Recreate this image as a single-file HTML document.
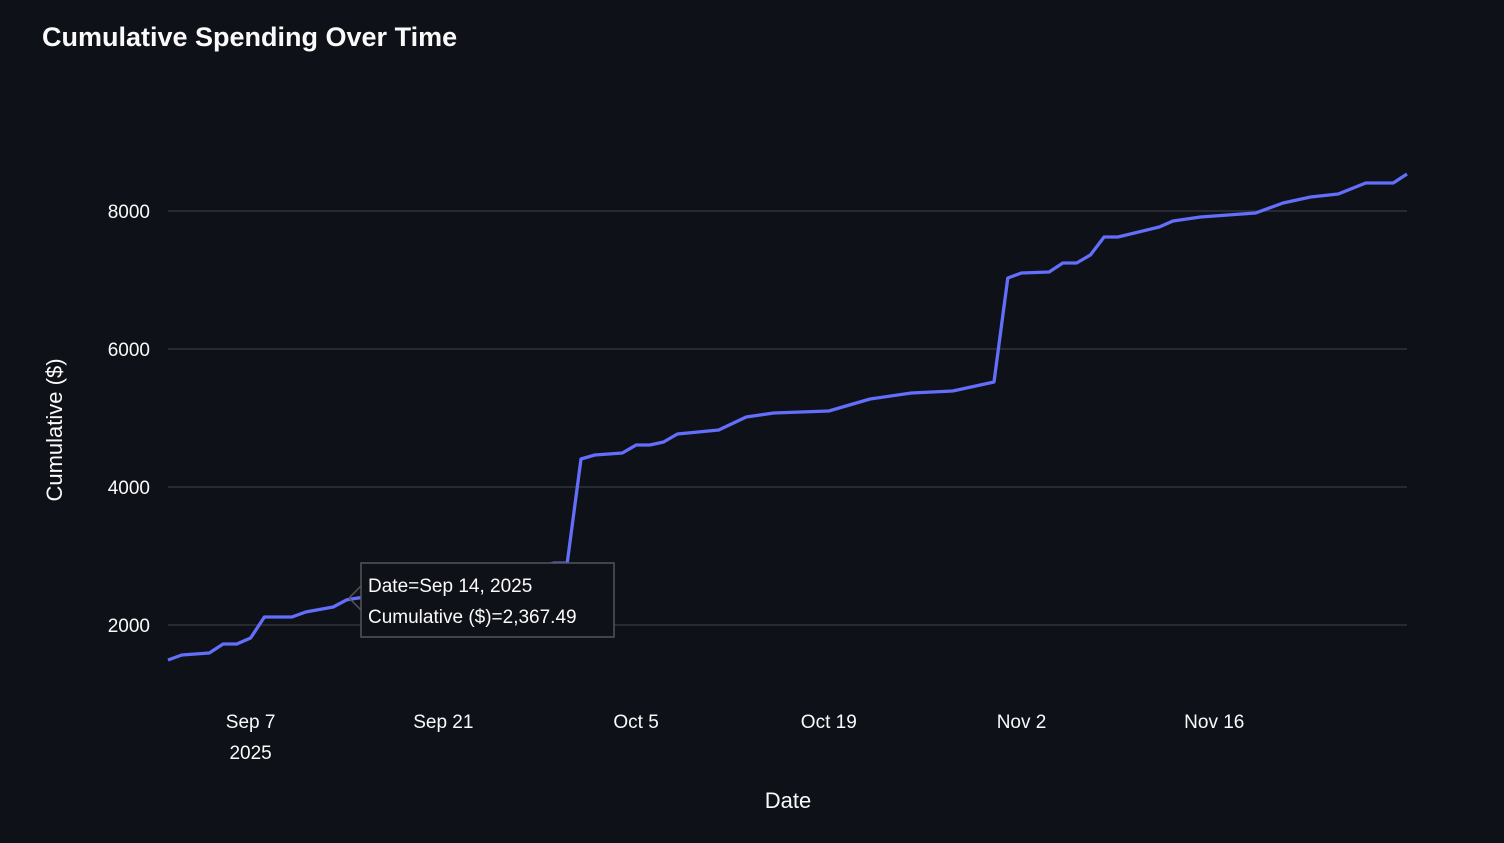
<!DOCTYPE html>
<html><head><meta charset="utf-8"><style>
body{margin:0;background:#0e1117;width:1504px;height:838px;overflow:hidden;font-family:"Liberation Sans",sans-serif}
svg text{font-family:"Liberation Sans",sans-serif}
</style></head><body>
<svg id="chart" width="1504" height="838" xmlns="http://www.w3.org/2000/svg">
<rect width="1504" height="838" fill="#0e1117"/>
<text x="42" y="46" fill="#fafafa" font-size="27" font-weight="bold">Cumulative Spending Over Time</text>
<g id="grid"></g><g id="yticks"></g><g id="xticks"></g>
<text x="788" y="808" fill="#fafafa" font-size="22" text-anchor="middle">Date</text>
<text transform="translate(62,430) rotate(-90)" fill="#fafafa" font-size="22" text-anchor="middle">Cumulative ($)</text>
<path id="line" fill="none" stroke="#636efa" stroke-width="3.3" stroke-linejoin="round"/>
<g>
<path id="tipArrow" d="M349,598 L361,586 M349,598 L361,610" stroke="#555" stroke-width="1.5" fill="none"/>
<rect x="361" y="563" width="253" height="74" fill="#0e1117" stroke="#555" stroke-width="1.5"/>
<text x="368" y="592" fill="#fafafa" font-size="19">Date=Sep 14, 2025</text>
<text x="368" y="623" fill="#fafafa" font-size="19">Cumulative ($)=2,367.49</text>
</g>
</svg>
<script>
const dayIndex=[0,1,2,3,4,5,6,7,8,9,10,11,12,13,16,19,22,25,28,29,30,31,33,34,35,36,37,40,42,44,48,51,54,57,58,60,61,62,64,65,66,67,68,69,72,73,75,79,81,83,85,87,89,90];
const cumValues=[1493,1565,1580,1594,1725,1725,1812,2116,2116,2116,2188,2225,2261,2367,2460,2560,2650,2740,2895,2895,4406,4464,4493,4609,4609,4652,4768,4826,5014,5072,5101,5275,5362,5391,5435,5522,7029,7101,7116,7246,7246,7362,7623,7623,7768,7855,7913,7971,8116,8203,8246,8406,8406,8536];
const yTicks=[2000,4000,6000,8000];
const xTickDays=[6,20,34,48,62,76];
const xTickLabels=["Sep 7","Sep 21","Oct 5","Oct 19","Nov 2","Nov 16"];
const NS="http://www.w3.org/2000/svg";
const xs=d=>168+d*(1407-168)/90;
const ys=v=>763-v*0.069;
const grid=document.getElementById('grid'),yt=document.getElementById('yticks'),xt=document.getElementById('xticks');
yTicks.forEach(v=>{
 const l=document.createElementNS(NS,'line');
 l.setAttribute('x1',168);l.setAttribute('x2',1407);l.setAttribute('y1',ys(v));l.setAttribute('y2',ys(v));
 l.setAttribute('stroke','#31333b');l.setAttribute('stroke-width','1.5');
 
 
 grid.appendChild(l);
 const t=document.createElementNS(NS,'text');
 t.setAttribute('x',150);t.setAttribute('y',ys(v)+7);t.setAttribute('fill','#fafafa');t.setAttribute('font-size','19');t.setAttribute('text-anchor','end');
 t.textContent=v;
 
 
 yt.appendChild(t);
});
xTickDays.forEach((d,i)=>{
 const t=document.createElementNS(NS,'text');
 t.setAttribute('x',xs(d));t.setAttribute('y',728);t.setAttribute('fill','#fafafa');t.setAttribute('font-size','19');t.setAttribute('text-anchor','middle');
 t.textContent=xTickLabels[i];
 
 
 xt.appendChild(t);
});
const yr=document.createElementNS(NS,'text');
yr.setAttribute('x',xs(xTickDays[0]));yr.setAttribute('y',759);yr.setAttribute('fill','#fafafa');yr.setAttribute('font-size','19');yr.setAttribute('text-anchor','middle');
yr.textContent='2025';


xt.appendChild(yr);
document.getElementById('line').setAttribute('d',dayIndex.map((d,i)=>(i?'L':'M')+xs(d).toFixed(1)+','+ys(cumValues[i]).toFixed(1)).join(' '));
</script>
</body></html>
